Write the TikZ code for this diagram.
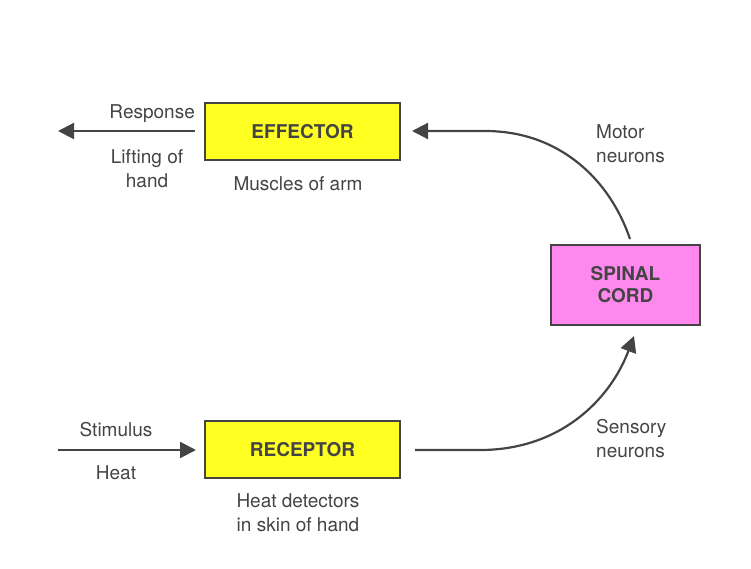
\documentclass[tikz,border=0pt]{standalone}
\usepackage{fontspec}
\setmainfont{TeX Gyre Heros}
\usetikzlibrary{arrows.meta}
\definecolor{ink}{HTML}{444444}
\definecolor{yel}{HTML}{FFFF22}
\definecolor{pnk}{HTML}{FF88EE}
\begin{document}
\begin{tikzpicture}[x=1pt,y=-1pt,
  box/.style={draw=ink,line width=2pt,font=\fontsize{19}{22}\selectfont\bfseries,text=ink,align=center,inner sep=0pt},
  lbl/.style={text=ink,font=\fontsize{19}{24}\selectfont,inner sep=0pt},
  arr/.style={draw=ink,line width=2.2pt,-{Triangle[length=16pt,width=16pt]}}]
\useasboundingbox (0,0) rectangle (751,569);
\node[box,fill=yel,minimum width=195pt,minimum height=57pt] (eff) at (302.5,131.5) {EFFECTOR};
\node[box,fill=yel,minimum width=195pt,minimum height=57pt] (rec) at (302.5,449.5) {RECEPTOR};
\node[box,fill=pnk,minimum width=149pt,minimum height=80pt] (sc) at (625.5,285) {SPINAL\\CORD};
\coordinate (r0) at (195,131); \coordinate (r1) at (58,131);
\coordinate (s0) at (58,450); \coordinate (s1) at (196,450);
\coordinate (a0) at (415,450); \coordinate (a1) at (480,450); \coordinate (a2) at (634,336);
\coordinate (b0) at (630,239); \coordinate (b1) at (485,131); \coordinate (b2) at (412,131);
\draw[arr] (r0) -- (r1);
\draw[arr] (s0) -- (s1);
\draw[arr] (a0) -- (a1) .. controls (560,450) and (610,400) .. (a2);
\draw[arr] (b0) .. controls (610,180) and (560,131) .. (b1) -- (b2);
\node[lbl,anchor=east] (t1) at (195,114) {Response};
\node[lbl,align=center] (t2) at (147,169) {Lifting of\\hand};
\node[lbl] (t3) at (298,184) {Muscles of arm};
\node[lbl,align=left,anchor=west] (t4) at (596,144) {Motor\\neurons};
\node[lbl] (t5) at (116,430) {Stimulus};
\node[lbl] (t6) at (116,473) {Heat};
\node[lbl,align=left,anchor=west] (t7) at (596,439) {Sensory\\neurons};
\node[lbl,align=center] (t8) at (298,513) {Heat detectors\\in skin of hand};
\end{tikzpicture}
\end{document}
